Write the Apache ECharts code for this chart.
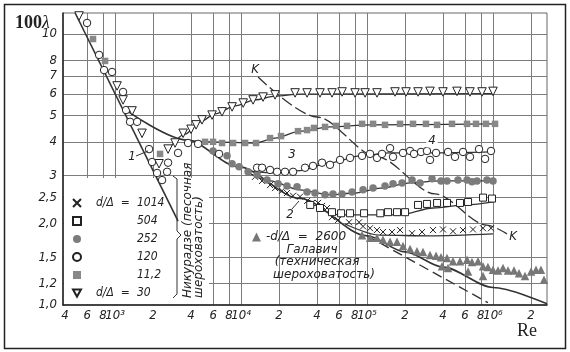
<!DOCTYPE html>
<html>
<head>
<meta charset="utf-8">
<script src="https://cdn.jsdelivr.net/npm/echarts@6/dist/echarts.min.js"></script>
<style>
    html, body { margin: 0; padding: 0; background: #fff; }
    #chart { width: 570px; height: 352px; }
</style>
</head>
<body>
<div id="chart"></div>
<script>
// axis grid and labels (Re on x, 100*lambda on y, both logarithmic)
let xGridValues = [600, 800, 1e3, 2e3, 4e3, 6e3, 8e3, 1e4, 2e4, 4e4, 6e4, 8e4, 1e5, 2e5, 4e5, 6e5, 8e5, 1e6, 2e6]
let xLabelValues = [400, 600, 800, 1e3, 2e3, 4e3, 6e3, 8e3, 1e4, 2e4, 4e4, 6e4, 8e4, 1e5, 2e5, 4e5, 6e5, 8e5, 1e6, 2e6]
let xLabelTexts = ['4', '6', '8', '10³', '2', '4', '6', '8', '10⁴', '2', '4', '6', '8', '10⁵', '2', '4', '6', '8', '10⁶', '2']
let yGridValues = [1.2, 1.5, 2.0, 2.5, 3, 4, 5, 6, 7, 8, 10]
let yLabelValues = [1.0, 1.2, 1.5, 2.0, 2.5, 3, 4, 5, 6, 7, 8, 10]
let yLabelTexts = ['1,0', '1,2', '1,5', '2,0', '2,5', '3', '4', '5', '6', '7', '8', '10']
let reMin = 386
let reMax = 2683000
let lamMin = 1.0
let lamMax = 11.95

// d/Δ = 30 (open triangles)
let tri30Re = [518, 1037, 1157, 1364, 1637, 2234, 2634, 2994, 3467, 4008, 4394, 4898, 5888, 7063, 8486, 10400, 12450, 14950, 18620, 26850, 33420, 42340, 52730, 63380, 80370, 96480, 120000, 166800, 204100, 254000, 316200, 400900, 517600, 656400, 818300, 1000000]
let tri30L = [11.65, 6.43, 5.71, 5.20, 4.30, 3.32, 3.76, 3.96, 4.30, 4.45, 4.62, 4.82, 5.02, 5.16, 5.38, 5.56, 5.71, 5.85, 5.96, 6.06, 6.06, 6.06, 6.06, 6.11, 6.06, 6.06, 6.06, 6.11, 6.11, 6.11, 6.14, 6.11, 6.14, 6.11, 6.11, 6.14]
let curve30Re = [2735, 3598, 4735, 6230, 8982, 12910, 18620, 29380, 1000000]
let curve30L = [3.82, 4.27, 4.74, 5.07, 5.43, 5.71, 5.90, 6.00, 6.02]

// d/Δ = 11,2 (filled squares)
let sq11Re = [668, 833, 2276, 5179, 5995, 7063, 8643, 10760, 13150, 16990, 20770, 28320, 33420, 37930, 46410, 56750, 69380, 91300, 111700, 138900, 182800, 231800, 293600, 359700, 472700, 622300, 732800, 879000, 1038000]
let sq11L = [9.58, 7.95, 3.61, 4.00, 4.00, 3.96, 3.96, 3.96, 3.96, 4.13, 4.20, 4.38, 4.42, 4.50, 4.54, 4.58, 4.58, 4.66, 4.66, 4.62, 4.66, 4.66, 4.66, 4.62, 4.66, 4.66, 4.66, 4.66, 4.66]
let curve11Re = [3598, 5676, 12910, 18620, 29380, 50820, 105700, 1000000]
let curve11L = [4.06, 4.00, 3.96, 4.13, 4.38, 4.54, 4.62, 4.66]

// d/Δ = 120 (open circles)
let circ120Re = [599, 747, 818, 946, 1157, 1223, 1315, 1496, 1861, 1967, 2154, 2360, 2587, 2634, 3162, 3795, 4559, 6685, 13400, 14680, 16990, 19320, 22340, 25880, 32200, 37240, 43920, 50820, 61090, 73320, 91300, 105700, 120000, 131500, 152300, 160800, 193100, 219500, 236100, 268300, 299000, 316200, 353100, 439300, 499000, 578000, 656400, 774400, 864900, 963800]
let circ120L = [10.98, 8.37, 7.36, 7.24, 6.11, 5.24, 4.74, 4.74, 3.76, 3.37, 3.07, 2.89, 3.10, 3.35, 3.64, 3.96, 3.93, 3.61, 3.21, 3.21, 3.15, 3.10, 3.10, 3.10, 3.21, 3.26, 3.35, 3.29, 3.43, 3.49, 3.55, 3.61, 3.49, 3.61, 3.79, 3.52, 3.64, 3.70, 3.61, 3.67, 3.70, 3.43, 3.64, 3.67, 3.52, 3.67, 3.52, 3.76, 3.46, 3.70]
let curve120Re = [10760, 20420, 29380, 50820, 88400, 152300, 316200, 1000000]
let curve120L = [3.12, 3.07, 3.13, 3.35, 3.55, 3.64, 3.64, 3.67]

// d/Δ = 252 (filled circles)
let dot252Re = [5995, 7743, 8486, 9646, 11370, 13400, 16080, 19660, 23170, 27830, 33420, 38630, 46410, 53700, 63380, 76070, 92990, 111700, 138900, 160800, 189600, 227700, 263500, 328000, 386500, 431300, 527400, 622300, 680800, 746400, 895400, 1000000]
let dot252L = [3.70, 3.55, 3.32, 3.24, 3.10, 3.02, 2.89, 2.80, 2.75, 2.73, 2.61, 2.59, 2.55, 2.57, 2.57, 2.61, 2.66, 2.70, 2.75, 2.80, 2.82, 2.89, 2.82, 2.92, 2.87, 2.87, 2.89, 2.89, 2.85, 2.87, 2.89, 2.87]
let curve252Re = [10760, 16990, 29380, 50820, 80370, 127400, 219500, 379500, 1000000]
let curve252L = [3.13, 2.87, 2.66, 2.55, 2.59, 2.70, 2.82, 2.87, 2.87]

// d/Δ = 504 (open squares)
let sq504Re = [35420, 42340, 52730, 62230, 73320, 94720, 127400, 146800, 172900, 200400, 254000, 299000, 359700, 431300, 547100, 633800, 833300, 981700]
let sq504L = [2.34, 2.28, 2.20, 2.18, 2.18, 2.18, 2.18, 2.20, 2.20, 2.20, 2.34, 2.36, 2.38, 2.38, 2.38, 2.40, 2.49, 2.47]
let curve504Re = [43920, 61090, 182800, 334000, 622300, 1000000]
let curve504L = [2.24, 2.15, 2.15, 2.28, 2.34, 2.40]

// d/Δ = 1014 (crosses)
let x1014Re = [12910, 14680, 16990, 18620, 21150, 23170, 25880, 29380, 33420, 36560, 40820, 43920, 48150, 52730, 58880, 71980, 86490, 92990, 105700, 120000, 133900, 157900, 182800, 227700, 273300, 334000, 400900, 481500, 578000, 693400, 833300, 963800]
let x1014L = [2.97, 2.87, 2.77, 2.70, 2.64, 2.59, 2.53, 2.51, 2.42, 2.38, 2.38, 2.32, 2.28, 2.11, 2.06, 2.02, 2.02, 1.95, 1.92, 1.89, 1.86, 1.86, 1.89, 1.84, 1.86, 1.89, 1.90, 1.87, 1.89, 1.90, 1.92, 1.92]
let curve1014Re = [66830, 127400, 316200, 1000000]
let curve1014L = [1.99, 1.81, 1.80, 1.83]

// Galavich, d/Δ = 2600 (filled triangles)
let tri2600Re = [91300, 105700, 120000, 133900, 152300, 172900, 193100, 219500, 249400, 278100, 316200, 353100, 386500, 393600, 431300, 439300, 481500, 547100, 622300, 633800, 680800, 760300, 833300, 833300, 912000, 1000000, 1096000, 1200000, 1315000, 1468000, 1608000, 1794000, 2004000, 2194000, 2403000, 2539000]
let tri2600L = [1.81, 1.77, 1.77, 1.74, 1.71, 1.71, 1.65, 1.61, 1.58, 1.57, 1.53, 1.52, 1.50, 1.39, 1.49, 1.37, 1.45, 1.45, 1.47, 1.33, 1.44, 1.45, 1.39, 1.28, 1.38, 1.35, 1.34, 1.37, 1.34, 1.34, 1.31, 1.28, 1.33, 1.35, 1.35, 1.24]

// reference lines
let line1Re = [482, 3162]
let line1L = [11.95, 2.04]
let line2Re = [1245, 3727, 9472, 29380, 100000, 200400, 400900, 1000000, 2683000]
let line2L = [5.20, 4.06, 3.24, 2.47, 1.80, 1.57, 1.38, 1.16, 1.01]
let blasiusRe = [100000, 912000]
let blasiusL = [1.80, 1.02]
let kRe = [13650, 40070, 120000, 346800, 895400, 1291000]
let kL = [6.94, 4.94, 3.52, 2.57, 1.97, 1.83]

let axisFont = "'DejaVu Sans Condensed', 'DejaVu Sans', sans-serif"
let textFont = "'DejaVu Sans', sans-serif"
let serifFont = "'Liberation Serif', 'DejaVu Serif', serif"
let ink = '#222'
let lineInk = '#333'
let gray = '#7c7c7c'
let crossPath = 'path://M0,0L10,10M10,0L0,10'
let downTriPath = 'path://M0,0L10,0L5,9Z'

function pts(re, lam) {
    return re.map((r, i) => [Math.log10(r), Math.log10(lam[i])])
}

function lookup(values, texts) {
    return function (v) {
        for (let i = 0; i < values.length; i++) {
            if (Math.abs(Math.log10(values[i]) - v) < 1e-6) return texts[i]
        }
        return ''
    }
}

function curve(name, re, lam, width, dash) {
    return {
        name: name,
        type: 'line',
        data: pts(re, lam),
        showSymbol: false,
        smooth: 0.3,
        smoothMonotone: 'x',
        lineStyle: { color: lineInk, width: width, type: dash || 'solid' },
        z: 2,
        silent: true
    }
}

function marks(name, re, lam, symbol, size, fill, stroke, rotate) {
    return {
        name: name,
        type: 'scatter',
        data: pts(re, lam),
        symbol: symbol,
        symbolSize: size,
        symbolRotate: rotate || 0,
        itemStyle: { color: fill, borderColor: stroke || fill, borderWidth: stroke ? 1 : 0, opacity: 1 },
        z: 3,
        silent: true
    }
}

let legendRich = {
    p: { width: 10, fontFamily: axisFont, fontStyle: 'italic', fontSize: 12, color: ink },
    a: { width: 41, fontFamily: axisFont, fontStyle: 'italic', fontSize: 12, color: ink },
    b: { fontFamily: axisFont, fontStyle: 'italic', fontSize: 12, color: ink }
}

let chart = echarts.init(document.getElementById('chart'), null, { renderer: 'canvas' })

let option = {
    animation: false,
    backgroundColor: '#fff',
    grid: {
        left: 63, right: 23, top: 13, bottom: 47,
        show: true, borderColor: '#666', borderWidth: 1,
        outerBoundsMode: 'none'
    },
    xAxis: {
        type: 'value',
        min: Math.log10(reMin),
        max: Math.log10(reMax),
        axisLine: { show: true, onZero: false, lineStyle: { color: ink, width: 1.5 } },
        axisTick: { show: false, customValues: xGridValues.map(Math.log10) },
        splitLine: { show: true, lineStyle: { color: gray, width: 1 } },
        axisLabel: {
            customValues: xLabelValues.map(Math.log10),
            formatter: lookup(xLabelValues, xLabelTexts),
            margin: 4,
            fontFamily: axisFont, fontStyle: 'italic', fontSize: 13, color: ink
        }
    },
    yAxis: {
        type: 'value',
        min: Math.log10(lamMin),
        max: Math.log10(lamMax),
        axisLine: { show: true, onZero: false, lineStyle: { color: ink, width: 1.5 } },
        axisTick: { show: false, customValues: yGridValues.map(Math.log10) },
        splitLine: { show: true, lineStyle: { color: gray, width: 1 } },
        axisLabel: {
            customValues: yLabelValues.map(Math.log10),
            formatter: lookup(yLabelValues, yLabelTexts),
            margin: 6,
            fontFamily: axisFont, fontStyle: 'italic', fontSize: 13, color: ink
        }
    },
    legend: [
        {
            data: [
                { name: '1014', icon: crossPath },
                { name: '504', icon: 'rect' },
                { name: '252', icon: 'circle' },
                { name: '120', icon: 'circle' },
                { name: '11,2', icon: 'rect' },
                { name: '30', icon: downTriPath }
            ],
            orient: 'vertical',
            left: 72, top: 197,
            padding: 0, itemGap: 6,
            itemWidth: 8, itemHeight: 8,
            selectedMode: false,
            formatter: function (name) {
                let head = (name === '1014' || name === '30') ? 'd/Δ  =' : ''
                return '{p|}{a|' + head + '}{b|' + name + '}'
            },
            textStyle: { rich: legendRich }
        },
        {
            data: ['2600'],
            left: 252, top: 231,
            padding: 0,
            itemWidth: 9, itemHeight: 9,
            selectedMode: false,
            formatter: '-d/Δ  =  2600',
            textStyle: { fontFamily: textFont, fontStyle: 'italic', fontSize: 12, color: ink }
        }
    ],
    series: [
        curve('laminar', line1Re, line1L, 1.6),
        curve('smooth', line2Re, line2L, 1.6),
        curve('blasius', blasiusRe, blasiusL, 1.4, [10, 5]),
        curve('K', kRe, kL, 1.3, [12, 4]),
        curve('c30', curve30Re, curve30L, 1.3),
        curve('c11', curve11Re, curve11L, 1.3),
        curve('c120', curve120Re, curve120L, 1.3),
        curve('c252', curve252Re, curve252L, 1.3),
        curve('c504', curve504Re, curve504L, 1.3),
        curve('c1014', curve1014Re, curve1014L, 1.3),
        marks('1014', x1014Re, x1014L, crossPath, 6, 'rgba(0,0,0,0)', ink),
        marks('504', sq504Re, sq504L, 'rect', 7, '#fff', ink),
        marks('252', dot252Re, dot252L, 'circle', 7.5, gray),
        marks('120', circ120Re, circ120L, 'circle', 7.5, '#fff', ink),
        marks('11,2', sq11Re, sq11L, 'rect', 6.5, '#888'),
        marks('30', tri30Re, tri30L, 'triangle', 8.5, '#fff', ink, 180),
        marks('2600', tri2600Re, tri2600L, 'triangle', 8.5, '#777')
    ],
    graphic: [
        // the legend corner has no grid lines
        { type: 'rect', shape: { x: 64, y: 178, width: 145, height: 126 }, style: { fill: '#fff' }, z: 1, silent: true },
        { type: 'rect', shape: { x: 4.5, y: 4.5, width: 561, height: 344 }, style: { fill: 'none', stroke: ink, lineWidth: 1.5 }, z: 10, silent: true },
        {
            type: 'text', x: 15, y: 23, z: 10,
            style: {
                text: '{a|100}{b|λ}', verticalAlign: 'middle',
                rich: {
                    a: { fontFamily: serifFont, fontSize: 18, fill: ink, fontWeight: 'bold' },
                    b: { fontFamily: serifFont, fontSize: 18, fill: ink, fontStyle: 'italic' }
                }
            }
        },
        { type: 'text', x: 527, y: 331, z: 10, style: { text: 'Re', font: '18px ' + serifFont, fill: ink, align: 'center', verticalAlign: 'middle' } },
        // brace and vertical note
        {
            type: 'polyline', z: 5,
            shape: { points: [[173, 176], [177, 179], [177, 231], [181, 235], [177, 239], [177, 294], [173, 298]] },
            style: { stroke: lineInk, lineWidth: 1, fill: 'none' }
        },
        { type: 'text', x: 188, y: 298, rotation: Math.PI / 2, z: 5, style: { text: 'Никурадзе (песочная', font: 'italic 12px ' + textFont, fill: ink, align: 'left', verticalAlign: 'middle' } },
        { type: 'text', x: 199, y: 298, rotation: Math.PI / 2, z: 5, style: { text: 'шероховатость)', font: 'italic 12px ' + textFont, fill: ink, align: 'left', verticalAlign: 'middle' } },
        // Galavich note
        { type: 'text', x: 312, y: 250, z: 5, style: { text: 'Галавич', font: 'italic 12px ' + textFont, fill: ink, align: 'center', verticalAlign: 'middle' } },
        { type: 'text', x: 317, y: 262, z: 5, style: { text: '(техническая', font: 'italic 12px ' + textFont, fill: ink, align: 'center', verticalAlign: 'middle' } },
        { type: 'text', x: 324, y: 275, z: 5, style: { text: 'шероховатость)', font: 'italic 12px ' + textFont, fill: ink, align: 'center', verticalAlign: 'middle' } },
        // curve numbers
        { type: 'text', x: 132, y: 157, z: 5, style: { text: '1', font: 'italic 13px ' + axisFont, fill: ink, align: 'center', verticalAlign: 'middle' } },
        { type: 'line', z: 5, shape: { x1: 136, y1: 156, x2: 148, y2: 151 }, style: { stroke: lineInk, lineWidth: 1 } },
        { type: 'text', x: 290, y: 215, z: 5, style: { text: '2', font: 'italic 13px ' + axisFont, fill: ink, align: 'center', verticalAlign: 'middle' } },
        { type: 'line', z: 5, shape: { x1: 292, y1: 209, x2: 299, y2: 201 }, style: { stroke: lineInk, lineWidth: 1 } },
        { type: 'text', x: 292, y: 155, z: 5, style: { text: '3', font: 'italic 13px ' + axisFont, fill: ink, align: 'center', verticalAlign: 'middle' } },
        { type: 'text', x: 432, y: 141, z: 5, style: { text: '4', font: 'italic 13px ' + axisFont, fill: ink, align: 'center', verticalAlign: 'middle', backgroundColor: '#fff', padding: [0, 2] } },
        { type: 'text', x: 255, y: 70, z: 5, style: { text: 'K', font: 'italic 13px ' + axisFont, fill: ink, align: 'center', verticalAlign: 'middle' } },
        { type: 'text', x: 513, y: 237, z: 5, style: { text: 'K', font: 'italic 13px ' + axisFont, fill: ink, align: 'center', verticalAlign: 'middle' } }
    ]
}

chart.setOption(option)
window.addEventListener('resize', chart.resize)
</script>
</body>
</html>
